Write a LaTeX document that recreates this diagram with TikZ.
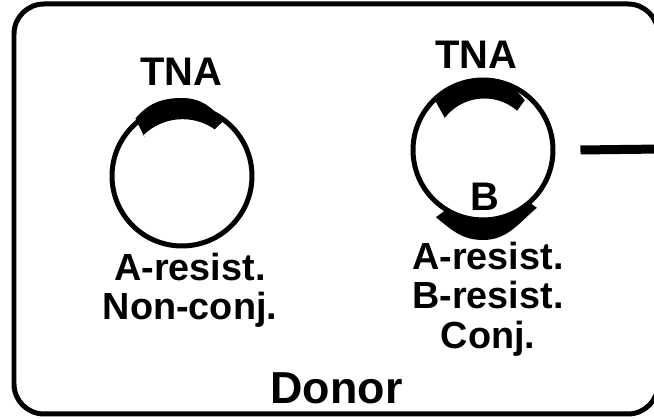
\documentclass[tikz,border=0pt]{standalone}
\usepackage{fontspec}
\setsansfont{Liberation Sans}
\usetikzlibrary{positioning,calc}

\begin{document}
\begin{tikzpicture}[
    x=0.02cm, y=0.02cm,
    ring/.style={circle, draw, line width=0.1cm, minimum size=2.8cm, inner sep=0pt},
    band/.style={fill=black},
    tag/.style={font=\sffamily\bfseries\fontsize{22.7pt}{24pt}\selectfont, inner sep=0pt},
    trait/.style={font=\sffamily\bfseries\fontsize{21.5pt}{22.3pt}\selectfont, align=center, inner sep=0pt, anchor=north}
]
\useasboundingbox (0,0) rectangle (654,419);

% === Donor cell ===
\draw[line width=0.1cm, rounded corners=0.6cm] (14,5) rectangle (658,415);
\node[font=\sffamily\bfseries\fontsize{25.5pt}{27pt}\selectfont, inner sep=0pt] (donor) at (336.5,30.5) {Donor};

% Plasmids
\node[ring] (p1) at (182,243) {};
\node[ring] (p2) at (483,269) {};

% TNA segments
\fill[band] ([shift={(134:54)}]p1.center) -- ([shift={(129:74)}]p1.center)
    to[out=50, in=180] ([shift={(90:78)}]p1.center)
    to[out=0, in=130] ([shift={(53:69)}]p1.center)
    -- ([shift={(55:57)}]p1.center) arc[start angle=55, end angle=134, radius=56] -- cycle;
\fill[band] ([shift={(140:50)}]p2.center) -- ([shift={(134:69)}]p2.center)
    to[out=52, in=180] ([shift={(90:71)}]p2.center)
    to[out=0, in=128] ([shift={(50:65)}]p2.center)
    -- ([shift={(49:52)}]p2.center) arc[start angle=49, end angle=140, radius=50] -- cycle;

% B segment
\fill[band] ([shift={(239:68)}]p2.center) -- ([shift={(235:82)}]p2.center)
    to[out=-40, in=180] ([shift={(270:90)}]p2.center)
    to[out=0, in=220] ([shift={(313:79)}]p2.center)
    -- ([shift={(311:68)}]p2.center) arc[start angle=311, end angle=239, radius=68] -- cycle;

% Labels
\node[tag] (tna1) at (181.5,347) {TNA};
\node[tag] (tna2) at (476,364) {TNA};
\node[tag] (gb) at (485,222) {B};
\node[trait] (t1) at (190,166) {A-resist.\\Non-conj.};
\node[trait] (t2) at (488,177) {A-resist.\\B-resist.\\Conj.};

% Transfer line
\coordinate (out) at (662,270);
\draw[line width=0.18cm] ([xshift=0.5cm]p2.east) -- (out);
\end{tikzpicture}
\end{document}
